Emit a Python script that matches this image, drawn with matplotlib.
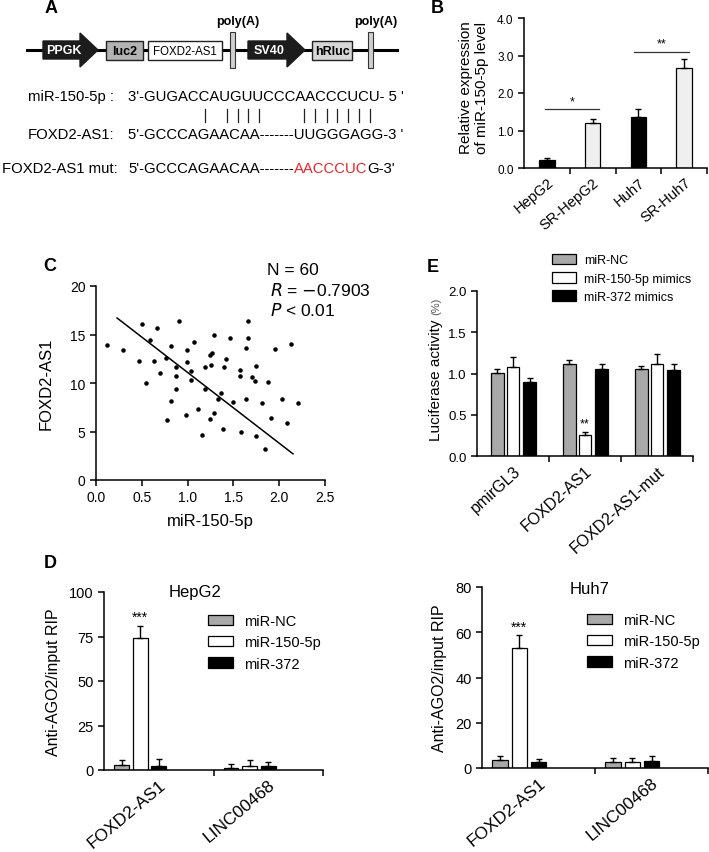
import numpy as np
import matplotlib
matplotlib.use("Agg")
import matplotlib.pyplot as plt
from matplotlib.patches import Polygon, Rectangle

plt.rcParams['font.family'] = ['Liberation Sans', 'DejaVu Sans']
NARROW = ['Liberation Sans Narrow', 'Liberation Sans', 'DejaVu Sans']

W, H = 709, 853

# B: miR-150-5p expression
b_cells = ["HepG2", "SR-HepG2", "Huh7", "SR-Huh7"]
b_vals = [0.22, 1.19, 1.37, 2.66]
b_err = [0.05, 0.12, 0.20, 0.25]
b_colors = ["black", "#efefef", "black", "#efefef"]

# C: correlation
c_x = [0.12, 0.30, 0.47, 0.59, 0.63, 0.55, 0.70, 0.76, 0.82, 0.87,
       0.87, 0.87, 0.82, 0.78, 0.99, 0.99, 1.07, 1.04, 1.04, 0.98,
       1.11, 1.16, 1.19, 1.19, 1.24, 1.27, 1.29, 1.25, 1.24, 1.29,
       1.33, 1.36, 1.40, 1.42, 1.39, 1.46, 1.50, 1.57, 1.57, 1.58,
       1.64, 1.64, 1.66, 1.75, 1.70, 1.74, 1.75, 1.81, 1.85, 1.88,
       1.91, 1.95, 2.03, 2.09, 2.13, 2.20, 0.50, 0.67, 0.91, 1.66]
c_y = [13.9, 13.4, 12.3, 14.4, 12.3, 10.0, 11.0, 12.6, 13.8, 11.6,
       10.7, 9.4, 8.1, 6.2, 13.4, 12.2, 14.2, 11.2, 10.3, 6.7,
       7.3, 4.6, 11.6, 9.4, 12.9, 13.1, 15.0, 11.9, 6.3, 6.9,
       8.4, 9.0, 11.7, 12.5, 5.3, 14.6, 8.0, 11.3, 10.7, 4.9,
       8.3, 13.6, 14.6, 11.8, 10.6, 10.2, 4.5, 7.9, 3.2, 10.1,
       6.4, 13.5, 8.3, 5.9, 14.0, 7.9, 16.1, 15.7, 16.4, 16.4]
c_fit_x = [0.23, 2.15]
c_fit_y = [16.7, 2.7]

# E: luciferase
e_groups = ["pmirGL3", "FOXD2-AS1", "FOXD2-AS1-mut"]
e_series = ["miR-NC", "miR-150-5p mimics", "miR-372 mimics"]
e_nc = [1.01, 1.11, 1.06]
e_nc_err = [0.05, 0.05, 0.03]
e_150 = [1.08, 0.25, 1.11]
e_150_err = [0.12, 0.04, 0.13]
e_372 = [0.90, 1.05, 1.04]
e_372_err = [0.04, 0.06, 0.07]

# D: RIP
d_genes = ["FOXD2-AS1", "LINC00468"]
d_series = ["miR-NC", "miR-150-5p", "miR-372"]
d_hep_nc = [2.8, 1.3]
d_hep_nc_err = [3.0, 2.3]
d_hep_150 = [74.0, 2.4]
d_hep_150_err = [7.0, 3.4]
d_hep_372 = [2.4, 2.4]
d_hep_372_err = [3.8, 2.3]
d_huh_nc = [3.5, 2.8]
d_huh_nc_err = [1.8, 1.5]
d_huh_150 = [53.0, 2.8]
d_huh_150_err = [5.8, 1.5]
d_huh_372 = [2.7, 3.2]
d_huh_372_err = [1.3, 2.0]

GRAY = "#a8a8a8"

fig = plt.figure(figsize=(W / 100, H / 100), dpi=100)


def px_axes(l, t, r, b):
    return fig.add_axes([l / W, 1 - b / H, (r - l) / W, (b - t) / H])


def style(ax, size, family=NARROW):
    for s in ["top", "right"]:
        ax.spines[s].set_visible(False)
    for s in ["left", "bottom"]:
        ax.spines[s].set_linewidth(1.1)
    ax.tick_params(direction="out", width=1.1, length=4, labelsize=size,
                   labelfontfamily=family)


def err_bars(ax, x, vals, errs, color, width):
    ax.bar(x, vals, width=width, color=color, edgecolor="black", linewidth=0.9,
           yerr=(np.zeros(len(errs)), errs), capsize=2,
           error_kw=dict(elinewidth=1, capthick=1, ecolor="black"))


# ---------- canvas for schematic and panel letters (kept on top) ----------
cv = fig.add_axes([0, 0, 1, 1])
cv.set_xlim(0, W)
cv.set_ylim(H, 0)
cv.axis("off")
cv.set_zorder(10)

for lab, x, y in [("A", 51, 8), ("B", 437, 8), ("C", 50, 266), ("D", 50, 563), ("E", 433, 267)]:
    cv.text(x, y, lab, fontsize=13, fontweight="bold", ha="center", va="center")

cv.plot([27, 397], [51, 51], color="black", lw=2.2, zorder=1)


def arrow(x0, xh, x1, yc, hb, hh, label):
    pts = [(x0, yc - hb), (xh, yc - hb), (xh, yc - hh), (x1, yc),
           (xh, yc + hh), (xh, yc + hb), (x0, yc + hb)]
    cv.add_patch(Polygon(pts, closed=True, facecolor="#1c1c1c", edgecolor="#1c1c1c", zorder=2))
    cv.text((x0 + xh) / 2 + 2, yc, label, color="white", fontsize=9, fontweight="bold",
            ha="center", va="center", zorder=3)


def box(x0, x1, label, fc, bold):
    cv.add_patch(Rectangle((x0, 41.5), x1 - x0, 19, facecolor=fc, edgecolor="#222222", lw=1.0, zorder=2))
    cv.text((x0 + x1) / 2, 51.5, label, fontsize=9 if bold else 8.3,
            fontweight="bold" if bold else "normal", ha="center", va="center", zorder=3)


arrow(43, 80, 98, 51, 9, 17, "PPGK")
box(106, 143, "luc2", "#b3b3b3", True)
box(148, 222, "FOXD2-AS1", "white", False)
arrow(248, 287, 305, 51, 9, 17, "SV40")
box(312, 352, "hRluc", "#d6d6d6", True)
for px in [229.5, 368]:
    cv.add_patch(Rectangle((px, 32.5), 5, 36, facecolor="#cfcfcf", edgecolor="#333333", lw=0.8, zorder=2))
    cv.text(px + 8, 22, "poly(A)", fontsize=9, fontweight="bold", ha="center", va="center")

seq_fs = 10.7
cv.text(28, 97, "miR-150-5p :", fontsize=seq_fs, va="center")
cv.text(128, 97, "3'-GUGACCAUGUUCCCAACCCUCU- 5 '", fontsize=seq_fs, va="center")
for bx in [205, 227, 238, 248, 259, 304, 315, 327, 337, 348, 359, 370]:
    cv.plot([bx, bx], [110, 123], color="#222222", lw=0.9)
cv.text(28, 135, "FOXD2-AS1:", fontsize=seq_fs, va="center")
cv.text(128, 135, "5'-GCCCAGAACAA-------UUGGGAGG-3 '", fontsize=seq_fs, va="center")
cv.text(2, 169, "FOXD2-AS1 mut:", fontsize=seq_fs, va="center")
t1 = cv.text(128, 169, "5'-GCCCAGAACAA-------", fontsize=seq_fs, va="center")
t2 = cv.annotate("AACCCUC", xy=(1, 0), xycoords=t1, va="bottom", ha="left",
                 fontsize=seq_fs, color="#e3262b")
cv.annotate("G-3'", xy=(1, 0), xycoords=t2, va="bottom", ha="left", fontsize=seq_fs)

# ---------- B ----------
axB = px_axes(524, 19, 707, 169)
xb = np.arange(len(b_cells)) + 0.5
err_bars(axB, xb, b_vals, b_err, b_colors, 0.34)
axB.set_xlim(0, 4)
axB.set_ylim(0, 4)
axB.set_yticks([0, 1, 2, 3, 4])
axB.set_yticklabels(["0.0", "1.0", "2.0", "3.0", "4.0"])
style(axB, 8.5)
axB.set_xticks(xb)
axB.set_xticklabels(b_cells, rotation=40, ha="right", rotation_mode="anchor",
                    fontsize=10.5, fontfamily="Liberation Sans")
axB.tick_params(axis="x", length=0, pad=5)
axB.set_xticks([1, 2, 3, 4], minor=True)
axB.tick_params(axis="x", which="minor", length=4, width=1.1)
axB.plot([0.45, 1.65], [1.57, 1.57], color="#333333", lw=0.9)
axB.text(1.05, 1.62, "*", ha="center", va="bottom", fontsize=9)
axB.plot([2.4, 3.6], [3.1, 3.1], color="#333333", lw=0.9)
axB.text(3.0, 3.15, "**", ha="center", va="bottom", fontsize=9)
fig.text(474 / W, 1 - 88 / H, "Relative expression\nof miR-150-5p level", rotation=90,
         ha="center", va="center", fontsize=11, linespacing=1.2)

# ---------- C ----------
axC = px_axes(96, 287, 325, 481)
axC.scatter(c_x, c_y, s=5, color="black", zorder=3)
axC.plot(c_fit_x, c_fit_y, color="black", lw=1.1)
axC.set_xlim(0, 2.5)
axC.set_ylim(0, 20)
axC.set_xticks([0, 0.5, 1.0, 1.5, 2.0, 2.5])
axC.set_xticklabels(["0.0", "0.5", "1.0", "1.5", "2.0", "2.5"])
axC.set_yticks([0, 5, 10, 15, 20])
style(axC, 10)
axC.set_xlabel("miR-150-5p", fontsize=12, labelpad=6)
axC.set_ylabel("FOXD2-AS1", fontsize=12, labelpad=12)
cv.text(267, 270, "N = 60", fontsize=12.5, va="center")
cv.text(270, 290, r"$\it{R}$ = $-$0.7903", fontsize=12.5, va="center")
cv.text(270, 310, r"$\it{P}$ < 0.01", fontsize=12.5, va="center")

# ---------- E ----------
axE = px_axes(477, 292, 693, 457)
xe = np.arange(len(e_groups))
err_bars(axE, xe + 0.28, e_nc, e_nc_err, GRAY, 0.18)
err_bars(axE, xe + 0.50, e_150, e_150_err, "white", 0.18)
err_bars(axE, xe + 0.73, e_372, e_372_err, "black", 0.18)
axE.set_xlim(0, 3)
axE.set_ylim(0, 2)
axE.set_yticks([0, 0.5, 1.0, 1.5, 2.0])
axE.set_yticklabels(["0.0", "0.5", "1.0", "1.5", "2.0"])
style(axE, 9.5, ['Liberation Sans', 'DejaVu Sans'])
axE.set_xticks(xe + 0.5)
axE.set_xticklabels(e_groups, rotation=42, ha="right", rotation_mode="anchor",
                    fontsize=11.5, fontfamily="Liberation Sans")
axE.tick_params(axis="x", length=0, pad=5)
axE.set_xticks([1, 2, 3], minor=True)
axE.tick_params(axis="x", which="minor", length=4, width=1.1)
axE.text(1.5, 0.32, "**", ha="center", va="bottom", fontsize=9)
fig.text(436 / W, 1 - 380 / H, "Luciferase activity", rotation=90, ha="center",
         va="center", fontsize=11)
fig.text(436 / W, 1 - 306 / H, "(%)", rotation=90, ha="center", va="center",
         fontsize=8, color="#555555")
hE = [Rectangle((0, 0), 1, 1, facecolor=c, edgecolor="black", lw=0.9)
      for c in [GRAY, "white", "black"]]
fig.legend(hE, e_series, loc="upper left", bbox_to_anchor=(552 / W, 1 - 255 / H),
           frameon=False, fontsize=9, handlelength=1.9, handleheight=0.9,
           handletextpad=0.7, labelspacing=0.45, borderpad=0, borderaxespad=0)


# ---------- D ----------
def rip_panel(l, t, r, b, ymax, yticks, nc, nce, m150, m150e, m372, m372e,
              title, title_xy, leg_xy, star_y):
    ax = px_axes(l, t, r, b)
    xd = np.arange(len(d_genes))
    err_bars(ax, xd + 0.16, nc, nce, GRAY, 0.135)
    err_bars(ax, xd + 0.33, m150, m150e, "white", 0.135)
    err_bars(ax, xd + 0.50, m372, m372e, "black", 0.135)
    ax.set_xlim(0, 2)
    ax.set_ylim(0, ymax)
    ax.set_yticks(yticks)
    style(ax, 10.5)
    ax.set_xticks(xd + 0.5)
    ax.set_xticklabels(d_genes, rotation=40, ha="right", rotation_mode="anchor",
                       fontsize=12.5, fontfamily="Liberation Sans")
    ax.tick_params(axis="x", length=0, pad=5)
    ax.set_xticks([1, 2], minor=True)
    ax.tick_params(axis="x", which="minor", length=4, width=1.1)
    ax.text(0.33, star_y, "***", ha="center", va="bottom", fontsize=10)
    ax.set_ylabel("Anti-AGO2/input RIP", fontsize=11.5, labelpad=6)
    cv.text(title_xy[0], title_xy[1], title, fontsize=12, ha="center", va="center")
    h = [Rectangle((0, 0), 1, 1, facecolor=c, edgecolor="black", lw=0.9)
         for c in [GRAY, "white", "black"]]
    fig.legend(h, d_series, loc="upper left", bbox_to_anchor=(leg_xy[0] / W, 1 - leg_xy[1] / H),
               frameon=False, fontsize=10.5, handlelength=1.7, handleheight=0.7,
               handletextpad=0.75, labelspacing=0.5, borderpad=0, borderaxespad=0)
    return ax


rip_panel(104, 593, 323, 771, 100, [0, 25, 50, 75, 100],
          d_hep_nc, d_hep_nc_err, d_hep_150, d_hep_150_err, d_hep_372, d_hep_372_err,
          "HepG2", (195, 592), (208, 615), 82)
rip_panel(482, 588, 708, 769, 80, [0, 20, 40, 60, 80],
          d_huh_nc, d_huh_nc_err, d_huh_150, d_huh_150_err, d_huh_372, d_huh_372_err,
          "Huh7", (590, 589), (587, 614), 59.5)

fig.savefig("out.png", dpi=100)
